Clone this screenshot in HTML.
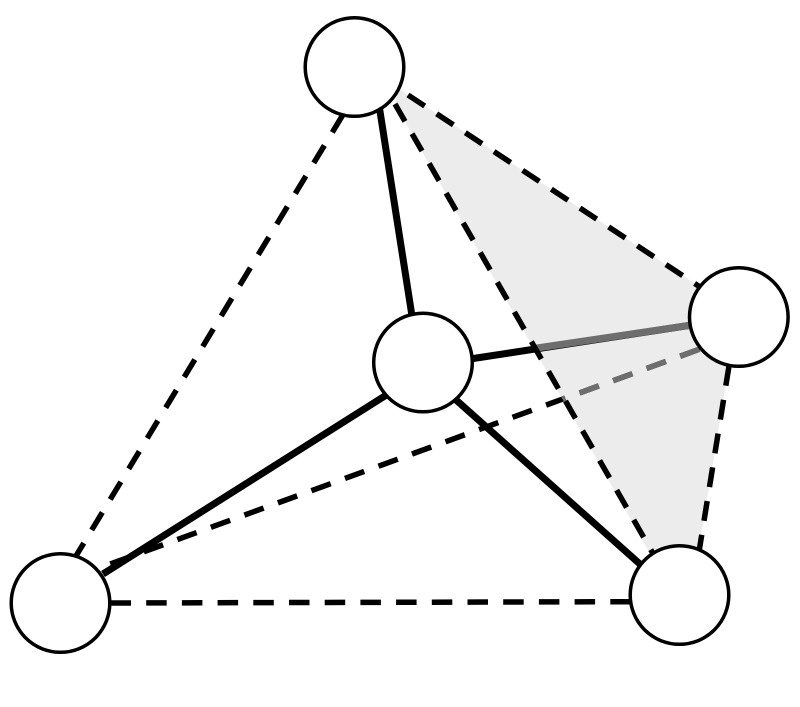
<!DOCTYPE html>
<html>
<head>
<meta charset="utf-8">
<style>
html,body{margin:0;padding:0;background:#fff;width:800px;height:707px;overflow:hidden}
svg{display:block}
</style>
</head>
<body>
<svg width="800" height="707" viewBox="0 0 800 707" xmlns="http://www.w3.org/2000/svg">
<defs>
<clipPath id="shade"><polygon points="399,89 697,285 739,317 729,365 698,555 651,555 395,104"/></clipPath>
</defs>
<polygon points="399,89 697,285 739,317 729,365 698,555 651,555 395,104" fill="#ececec"/>
<g fill="none" stroke="#000" stroke-width="7">
<line x1="379" y1="105" x2="412" y2="316"/>
<line x1="470" y1="359" x2="692" y2="325"/>
<line x1="388" y1="394" x2="103" y2="574"/>
<line x1="455" y1="399" x2="641" y2="565"/>
</g>
<line x1="537" y1="348" x2="692" y2="325" stroke="#6e6e6e" stroke-width="7"/>
<g fill="none" stroke="#000" stroke-width="5.500">
<line x1="73.200" y1="560.600" x2="344" y2="113" stroke-dasharray="20.500 15.250"/>
<line x1="110.300" y1="564" x2="700" y2="349" stroke-dasharray="20.500 15.180"/>
<line x1="408" y1="95" x2="700" y2="287" stroke-dasharray="20 14.300"/>
<line x1="729" y1="366" x2="698" y2="558" stroke-dasharray="20 14.200"/>
<line x1="110.500" y1="603" x2="632" y2="601.700" stroke-dasharray="20.500 15.200"/>
</g>
<line x1="110.300" y1="564" x2="700" y2="349" fill="none" stroke="#6e6e6e" stroke-width="5.500" stroke-dasharray="20.500 15.180" clip-path="url(#shade)"/>
<line x1="395" y1="104" x2="655" y2="557" fill="none" stroke="#000" stroke-width="5.500" stroke-dasharray="20 14.250"/>
<g fill="#fff" stroke="#000" stroke-width="3.500">
<circle cx="354.500" cy="67" r="49.300"/>
<circle cx="738.800" cy="317" r="49.300"/>
<circle cx="423" cy="362.500" r="49.300"/>
<circle cx="60.500" cy="603" r="49.300"/>
<circle cx="679.500" cy="595" r="49.300"/>
</g>
</svg>
</body>
</html>
